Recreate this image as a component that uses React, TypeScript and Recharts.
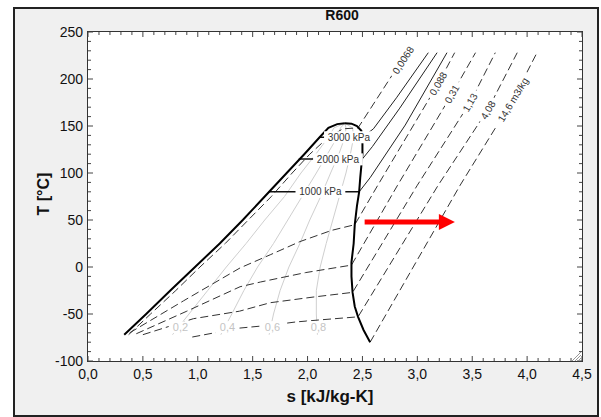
import React from 'react';
import { ComposedChart, Line, XAxis, YAxis, ReferenceDot, ReferenceLine } from 'recharts';

const FONT = '"Liberation Sans", Arial, Helvetica, sans-serif';

// axis ticks (s in kJ/kg-K, T in °C)
const xMajor = [0, 0.5, 1, 1.5, 2, 2.5, 3, 3.5, 4, 4.5];
const yMajor = [-100, -50, 0, 50, 100, 150, 200, 250];
const xTicks = Array.from({ length: 46 }, (_, i) => i / 10);
const yTicks = Array.from({ length: 36 }, (_, i) => -100 + i * 10);

// saturation dome
const liquidLine = [
  { s: 0.33, T: -72 }, { s: 0.53, T: -50 }, { s: 0.75, T: -25 }, { s: 0.975, T: 0 },
  { s: 1.2, T: 25 }, { s: 1.41, T: 50 }, { s: 1.61, T: 75 }, { s: 1.81, T: 100 },
  { s: 1.97, T: 120 }, { s: 2.11, T: 138 }, { s: 2.19, T: 148 }, { s: 2.27, T: 152 },
  { s: 2.34, T: 153 },
];
const vaporLine = [
  { s: 2.34, T: 153 }, { s: 2.4, T: 152.5 }, { s: 2.45, T: 150 }, { s: 2.49, T: 145 },
  { s: 2.5, T: 135 }, { s: 2.5, T: 120 }, { s: 2.48, T: 95 }, { s: 2.47, T: 80 },
  { s: 2.45, T: 65 }, { s: 2.43, T: 45 }, { s: 2.42, T: 25 }, { s: 2.4, T: 5 },
  { s: 2.4, T: -10 }, { s: 2.41, T: -27 }, { s: 2.43, T: -42 }, { s: 2.46, T: -53 },
  { s: 2.51, T: -67 }, { s: 2.57, T: -80 },
];

// isobars inside the dome
const p3000Sat = [{ s: 2.11, T: 138 }, { s: 2.5, T: 138 }];
const p2000Sat = [{ s: 1.92, T: 115 }, { s: 2.5, T: 115 }];
const p1000Sat = [{ s: 1.65, T: 80 }, { s: 2.47, T: 80 }];
// isobars, superheated vapour
const p3000 = [{ s: 2.5, T: 138 }, { s: 2.6, T: 147 }, { s: 2.81, T: 180 }, { s: 3.1, T: 228 }];
const p2000 = [{ s: 2.5, T: 115 }, { s: 2.59, T: 128 }, { s: 2.84, T: 169 }, { s: 3.18, T: 228 }];
const p1000 = [{ s: 2.47, T: 80 }, { s: 2.57, T: 95 }, { s: 2.89, T: 151 }, { s: 3.27, T: 228 }];

// isochores (m3/kg)
const v0068 = [
  { s: 0.37, T: -72 }, { s: 0.57, T: -50 }, { s: 0.8, T: -25 }, { s: 1.02, T: 0 },
  { s: 1.25, T: 25 }, { s: 1.46, T: 50 }, { s: 1.67, T: 75 }, { s: 1.86, T: 100 },
  { s: 2.02, T: 120 }, { s: 2.17, T: 136 }, { s: 2.32, T: 147 }, { s: 2.46, T: 148 },
  { s: 2.77, T: 204 }, { s: 2.9, T: 228 },
];
const v088 = [
  { s: 0.38, T: -70 }, { s: 0.87, T: -36 }, { s: 1.385, T: -1 }, { s: 1.66, T: 13 },
  { s: 1.93, T: 27 }, { s: 2.22, T: 39 }, { s: 2.43, T: 45 }, { s: 2.64, T: 87 },
  { s: 3.19, T: 195 }, { s: 3.34, T: 228 },
];
const v31 = [
  { s: 0.44, T: -71 }, { s: 0.9, T: -47 }, { s: 1.385, T: -21 }, { s: 1.57, T: -16 },
  { s: 1.98, T: -6 }, { s: 2.4, T: 2 }, { s: 2.82, T: 87 }, { s: 3.31, T: 183 },
  { s: 3.53, T: 228 },
];
const v113 = [
  { s: 0.5, T: -72 }, { s: 0.96, T: -55 }, { s: 1.38, T: -47 }, { s: 1.66, T: -38 },
  { s: 2.05, T: -32 }, { s: 2.41, T: -27 }, { s: 3.0, T: 87 }, { s: 3.48, T: 175 },
  { s: 3.71, T: 228 },
];
const v408 = [
  { s: 0.95, T: -74.5 }, { s: 1.38, T: -65 }, { s: 1.68, T: -61.7 }, { s: 1.89, T: -58.5 },
  { s: 2.1, T: -56.4 }, { s: 2.46, T: -53 }, { s: 3.19, T: 87 }, { s: 3.64, T: 167 },
  { s: 3.91, T: 228 },
];
const v146 = [{ s: 2.57, T: -80 }, { s: 3.39, T: 87 }, { s: 3.87, T: 178 }, { s: 4.09, T: 228 }];

// vapour quality lines
const x02 = [
  { s: 0.77, T: -72 }, { s: 0.92, T: -50 }, { s: 1.09, T: -25 }, { s: 1.26, T: 0 },
  { s: 1.44, T: 25 }, { s: 1.61, T: 50 }, { s: 1.79, T: 75 }, { s: 1.94, T: 100 },
  { s: 2.075, T: 120 }, { s: 2.19, T: 138 }, { s: 2.24, T: 148 }, { s: 2.34, T: 153 },
];
const x04 = [
  { s: 1.21, T: -72 }, { s: 1.31, T: -50 }, { s: 1.42, T: -25 }, { s: 1.545, T: 0 },
  { s: 1.69, T: 25 }, { s: 1.82, T: 50 }, { s: 1.95, T: 75 }, { s: 2.08, T: 100 },
  { s: 2.18, T: 120 }, { s: 2.27, T: 138 }, { s: 2.3, T: 148 }, { s: 2.34, T: 153 },
];
const x06 = [
  { s: 1.65, T: -72 }, { s: 1.69, T: -50 }, { s: 1.75, T: -25 }, { s: 1.83, T: 0 },
  { s: 1.93, T: 25 }, { s: 2.02, T: 50 }, { s: 2.12, T: 75 }, { s: 2.21, T: 100 },
  { s: 2.285, T: 120 }, { s: 2.34, T: 138 }, { s: 2.35, T: 148 }, { s: 2.34, T: 153 },
];
const x08 = [
  { s: 2.09, T: -72 }, { s: 2.08, T: -50 }, { s: 2.08, T: -25 }, { s: 2.115, T: 0 },
  { s: 2.17, T: 25 }, { s: 2.23, T: 50 }, { s: 2.29, T: 75 }, { s: 2.35, T: 100 },
  { s: 2.39, T: 120 }, { s: 2.42, T: 138 }, { s: 2.41, T: 148 }, { s: 2.34, T: 153 },
];

// labels
const isobarLabels = [
  { s: 2.377, T: 138, text: '3000 kPa' },
  { s: 2.277, T: 114.5, text: '2000 kPa' },
  { s: 2.117, T: 80, text: '1000 kPa' },
];
const qualityLabels = [
  { s: 0.842, T: -64, text: '0,2' },
  { s: 1.27, T: -64, text: '0,4' },
  { s: 1.68, T: -64, text: '0,6' },
  { s: 2.099, T: -64, text: '0,8' },
];
const isochoreLabels = [
  { s: 2.87, T: 220, text: '0,0068', angle: -57 },
  { s: 3.19, T: 195, text: '0,088', angle: -60 },
  { s: 3.315, T: 184, text: '0,31', angle: -60 },
  { s: 3.479, T: 175, text: '1,13', angle: -60 },
  { s: 3.643, T: 167, text: '4,08', angle: -60 },
  { s: 3.871, T: 178, text: '14,6 m3/kg', angle: -59 },
];
const arrowFrom = { s: 2.52, T: 48 };
const arrowTo = { s: 3.342, T: 48 };

const isMajor = (list: number[], v: number) => list.some((m) => Math.abs(m - v) < 1e-6);
const fmtX = (v: number) => v.toFixed(1).replace('.', ',');

const BottomTick = (props: any) => {
  const { x, y, payload } = props;
  const major = isMajor(xMajor, payload.value);
  return (
    <g>
      <line x1={x} x2={x} y1={y} y2={y - (major ? 5 : 3)} stroke="#444" />
      {major && (
        <text x={x} y={y + 18} textAnchor="middle" fontSize={14} fontFamily={FONT} fill="#111">
          {fmtX(payload.value)}
        </text>
      )}
    </g>
  );
};
const TopTick = (props: any) => {
  const { x, y, payload } = props;
  const major = isMajor(xMajor, payload.value);
  return <line x1={x} x2={x} y1={y} y2={y + (major ? 5 : 3)} stroke="#444" />;
};
const LeftTick = (props: any) => {
  const { x, y, payload } = props;
  const major = isMajor(yMajor, payload.value);
  return (
    <g>
      <line x1={x} x2={x + (major ? 5 : 3)} y1={y} y2={y} stroke="#444" />
      {major && (
        <text x={x - 5} y={y + 5} textAnchor="end" fontSize={14} fontFamily={FONT} fill="#111">
          {payload.value}
        </text>
      )}
    </g>
  );
};
const RightTick = (props: any) => {
  const { x, y, payload } = props;
  const major = isMajor(yMajor, payload.value);
  return <line x1={x} x2={x - (major ? 5 : 3)} y1={y} y2={y} stroke="#444" />;
};

const Tag = ({ cx, cy, text, angle = 0, color = '#333', size = 10 }: any) => {
  const w = text.length * size * 0.56 + 5;
  return (
    <g transform={`translate(${cx},${cy}) rotate(${angle})`}>
      <rect x={-w / 2} y={-6} width={w} height={12} fill="#fff" />
      <text x={0} y={size * 0.36} textAnchor="middle" fontSize={size} fontFamily={FONT} fill={color}>
        {text}
      </text>
    </g>
  );
};

const ArrowHead = ({ cx, cy }: any) => (
  <polygon points={`${cx - 16},${cy - 8} ${cx},${cy} ${cx - 16},${cy + 8}`} fill="#ff0000" />
);

const ax = { xAxisId: 'b', yAxisId: 'l' };
const common = { dataKey: 'T', dot: false, activeDot: false, isAnimationActive: false, type: 'linear' as const };

export default function App() {
  return (
    <div style={{ position: 'absolute', left: 0, top: 0, width: 601, height: 417, background: '#fff', fontFamily: FONT }}>
      <div
        style={{
          position: 'absolute', left: 13, top: 7, width: 586, height: 410,
          boxSizing: 'border-box', border: '2px solid #222', background: '#f0f0f0',
        }}
      />
      <div
        style={{
          position: 'absolute', left: 87, top: 31, width: 496, height: 331,
          boxSizing: 'border-box', border: '1px solid #333', background: '#fff',
        }}
      />
      <div style={{ position: 'absolute', left: 0, top: 0 }}>
        <ComposedChart width={601} height={417} margin={{ top: 31, right: 18, bottom: 55, left: 87 }}>
          <XAxis xAxisId="b" dataKey="s" type="number" domain={[0, 4.5]} ticks={xTicks} interval={0}
            tick={BottomTick} tickLine={false} axisLine={false} height={1} tickSize={0} tickMargin={0} allowDataOverflow />
          <XAxis xAxisId="t" orientation="top" dataKey="s" type="number" domain={[0, 4.5]} ticks={xTicks} interval={0}
            tick={TopTick} tickLine={false} axisLine={false} height={1} tickSize={0} tickMargin={0} allowDataOverflow />
          <YAxis yAxisId="l" type="number" domain={[-100, 250]} ticks={yTicks} interval={0}
            tick={LeftTick} tickLine={false} axisLine={false} width={1} tickSize={0} tickMargin={0} allowDataOverflow />
          <YAxis yAxisId="r" orientation="right" type="number" domain={[-100, 250]} ticks={yTicks} interval={0}
            tick={RightTick} tickLine={false} axisLine={false} width={1} tickSize={0} tickMargin={0} allowDataOverflow />

          {/* quality lines */}
          {[x02, x04, x06, x08].map((d, i) => (
            <Line key={`x${i}`} {...ax} {...common} data={d} stroke="#cfcfcf" strokeWidth={1} />
          ))}

          {/* isochores */}
          {[v0068, v088, v31, v113, v408].map((d, i) => (
            <Line key={`v${i}`} {...ax} {...common} data={d} stroke="#333" strokeWidth={1} strokeDasharray="8 4" />
          ))}
          <Line xAxisId="t" yAxisId="r" {...common} data={v146} stroke="#333" strokeWidth={1} strokeDasharray="8 4" />

          {/* isobars */}
          {[p3000, p2000, p1000].map((d, i) => (
            <Line key={`p${i}`} {...ax} {...common} data={d} stroke="#222" strokeWidth={1} />
          ))}
          {[p3000Sat, p2000Sat, p1000Sat].map((d, i) => (
            <Line key={`ps${i}`} {...ax} {...common} data={d} stroke="#111" strokeWidth={1.5} />
          ))}

          {/* saturation dome */}
          <Line {...ax} {...common} data={liquidLine} stroke="#000" strokeWidth={2} />
          <Line {...ax} {...common} data={vaporLine} stroke="#000" strokeWidth={2} />

          {qualityLabels.map((l) => (
            <ReferenceDot key={l.text} {...ax} x={l.s} y={l.T} r={0}
              shape={(p: any) => <Tag cx={p.cx} cy={p.cy} text={l.text} color="#c4c4c4" size={11} />} />
          ))}
          {isobarLabels.map((l) => (
            <ReferenceDot key={l.text} {...ax} x={l.s} y={l.T} r={0}
              shape={(p: any) => <Tag cx={p.cx} cy={p.cy} text={l.text} color="#333" size={10} />} />
          ))}
          {isochoreLabels.map((l) => (
            <ReferenceDot key={l.text} {...ax} x={l.s} y={l.T} r={0}
              shape={(p: any) => <Tag cx={p.cx} cy={p.cy} text={l.text} angle={l.angle} color="#333" size={10} />} />
          ))}

          {/* red arrow */}
          <ReferenceLine {...ax} segment={[{ x: arrowFrom.s, y: arrowFrom.T }, { x: arrowTo.s - 0.14, y: arrowTo.T }]}
            stroke="#ff0000" strokeWidth={5} />
          <ReferenceDot {...ax} x={arrowTo.s} y={arrowTo.T} r={0} shape={ArrowHead} />
        </ComposedChart>
      </div>
      <svg width={601} height={417} style={{ position: 'absolute', left: 0, top: 0, pointerEvents: 'none' }}>
        <text x={342} y={20} textAnchor="middle" fontSize={14} fontWeight="bold" fontFamily={FONT} fill="#111">R600</text>
        <text x={43} y={194} transform="rotate(-90 43 194)" textAnchor="middle" dominantBaseline="central"
          fontSize={16} fontWeight="bold" fontFamily={FONT} fill="#111">T [°C]</text>
        <text x={330} y={402} textAnchor="middle" fontSize={17} fontWeight="bold" fontFamily={FONT} fill="#111">s [kJ/kg-K]</text>
        <g stroke="#999" strokeWidth={1}>
          <line x1={581} y1={352} x2={572} y2={361} />
          <line x1={581} y1={355} x2={575} y2={361} />
          <line x1={581} y1={358} x2={578} y2={361} />
        </g>
      </svg>
    </div>
  );
}
